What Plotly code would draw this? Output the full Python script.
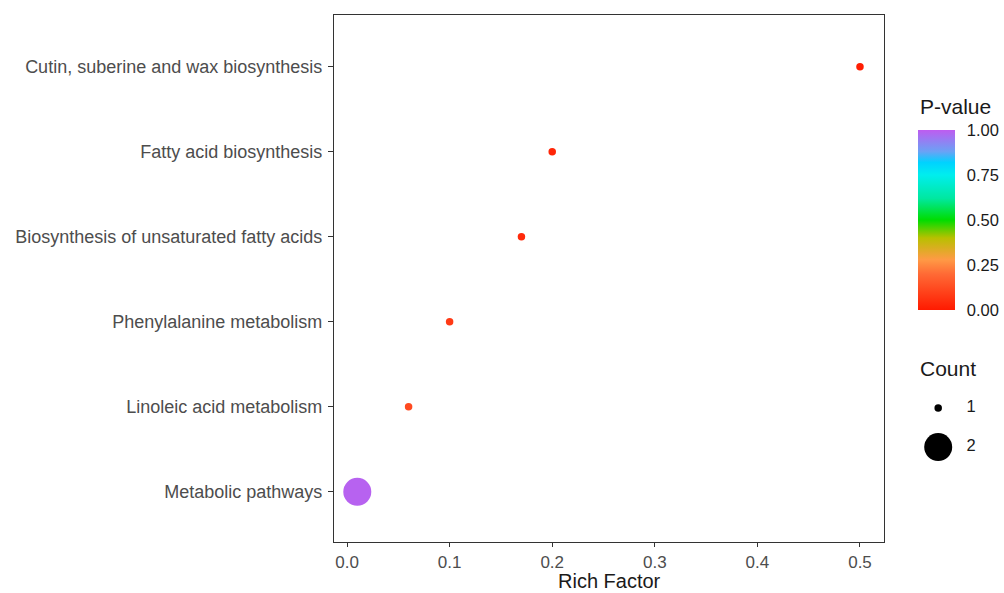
import plotly.graph_objects as go

# ---- data ----
pathways = [
    "Metabolic pathways",
    "Linoleic acid metabolism",
    "Phenylalanine metabolism",
    "Biosynthesis of unsaturated fatty acids",
    "Fatty acid biosynthesis",
    "Cutin, suberine and wax biosynthesis",
]
rich_factor = [0.01, 0.06, 0.10, 0.17, 0.20, 0.50]
p_value = [0.99, 0.12, 0.08, 0.04, 0.03, 0.01]
count = [2, 1, 1, 1, 1, 1]
count_levels = [1, 2]
x_ticks = [0.0, 0.1, 0.2, 0.3, 0.4, 0.5]
cbar_ticks = [0.0, 0.25, 0.5, 0.75, 1.0]

# ---- style ----
size_of_count = {1: 7.5, 2: 28}
marker_sizes = [size_of_count[c] for c in count]
colorscale = [
    [0.00, "#FF1A00"],
    [0.20, "#FF6A35"],
    [0.28, "#FF9A45"],
    [0.40, "#B8C000"],
    [0.50, "#00DD00"],
    [0.62, "#00E8A0"],
    [0.75, "#00EEEE"],
    [0.82, "#00D2FF"],
    [0.88, "#6AA2F5"],
    [1.00, "#BE5CF0"],
]
FONT = "Liberation Sans, Arial, Helvetica, sans-serif"
W, H = 1004, 593
ML, MR, MT, MB = 334, 0, 15, 51
PW = W - ML - MR
PH = H - MT - MB
plot_right = 884


def px_x(x):
    return (x - ML) / PW


def px_y(y):
    return (H - MB - y) / PH


fig = go.Figure()

fig.add_trace(go.Scatter(
    x=rich_factor,
    y=pathways,
    mode="markers",
    marker=dict(
        size=marker_sizes,
        color=p_value,
        cmin=0,
        cmax=1,
        colorscale=colorscale,
        line=dict(width=0),
        opacity=1,
        colorbar=dict(
            xref="paper", x=px_x(918), xanchor="left",
            yref="paper", y=px_y(310), yanchor="bottom",
            len=180, lenmode="pixels",
            thickness=37, thicknessmode="pixels",
            outlinewidth=0,
            tickvals=cbar_ticks,
            tickformat=".2f",
            ticks="outside", ticklen=9, tickcolor="white", tickwidth=1,
            tickfont=dict(size=16.5, color="#1a1a1a", family=FONT),
            ypad=0, xpad=0,
        ),
    ),
    showlegend=False,
    hoverinfo="x+y",
))

# Count legend drawn in a small auxiliary axis
fig.add_trace(go.Scatter(
    x=[0.26] * len(count_levels),
    y=count_levels,
    mode="markers",
    marker=dict(size=[size_of_count[c] for c in count_levels],
                color="black", opacity=1, line=dict(width=0)),
    xaxis="x2", yaxis="y2", showlegend=False, hoverinfo="skip",
))
fig.add_trace(go.Scatter(
    x=[0.73] * len(count_levels),
    y=count_levels,
    mode="text",
    text=[str(c) for c in count_levels],
    textfont=dict(size=16.5, color="#1a1a1a", family=FONT),
    xaxis="x2", yaxis="y2", showlegend=False, hoverinfo="skip",
))

fig.add_annotation(
    text="P-value", xref="paper", yref="paper",
    x=px_x(918), y=px_y(106), xanchor="left", yanchor="middle",
    showarrow=False, font=dict(size=21, color="#1a1a1a", family=FONT),
)
fig.add_annotation(
    text="Count", xref="paper", yref="paper",
    x=px_x(918), y=px_y(368), xanchor="left", yanchor="middle",
    showarrow=False, font=dict(size=21, color="#1a1a1a", family=FONT),
)
fig.add_annotation(
    text="Rich Factor", xref="paper", yref="paper",
    x=px_x((ML + plot_right) / 2), y=px_y(581), xanchor="center", yanchor="middle",
    showarrow=False, borderpad=0, font=dict(size=20, color="#1a1a1a", family=FONT),
)

axis_line = "#333333"
fig.update_layout(
    width=W, height=H,
    margin=dict(l=ML, r=MR, t=MT, b=MB, pad=0, autoexpand=False),
    plot_bgcolor="white", paper_bgcolor="white",
    font=dict(family=FONT),
    xaxis=dict(
        domain=[0, (plot_right - ML) / PW],
        range=[-0.0127, 0.5234],
        tickvals=x_ticks, tickformat=".1f",
        showgrid=False, zeroline=False, automargin=False,
        showline=True, linecolor=axis_line, linewidth=1.2, mirror=True,
        ticks="outside", ticklen=4, tickcolor=axis_line, tickwidth=1.2,
        tickfont=dict(size=17, color="#4D4D4D", family=FONT),
    ),
    yaxis=dict(
        type="category",
        categoryorder="array", categoryarray=pathways,
        range=[-0.59, 5.61],
        showgrid=False, zeroline=False, automargin=False,
        showline=True, linecolor=axis_line, linewidth=1.2, mirror=True,
        ticks="outside", ticklen=5, tickcolor=axis_line, tickwidth=1.2,
        tickfont=dict(size=18, color="#4D4D4D", family=FONT),
        ticklabelstandoff=2,
    ),
    xaxis2=dict(
        domain=[px_x(920), px_x(990)], range=[0, 1], anchor="y2",
        visible=False, fixedrange=True,
    ),
    yaxis2=dict(
        domain=[px_y(465), px_y(390)], range=[2.46, 0.538], anchor="x2",
        visible=False, fixedrange=True,
    ),
)

fig.write_html("out.html")
